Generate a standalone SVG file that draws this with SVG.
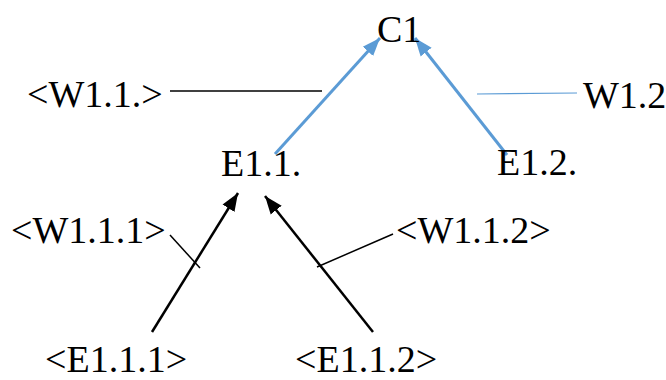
<svg xmlns="http://www.w3.org/2000/svg" width="666" height="380" viewBox="0 0 666 380">
<style>
.t text{font-size:38px;fill:#000}
.blk{stroke:#000;stroke-width:2.5;fill:none}
.blu{stroke:#5B9BD5;stroke-width:3;fill:none}
.thin{stroke:#000;stroke-width:1.5;fill:none}
.thinb{stroke:#5B9BD5;stroke-width:1.2;fill:none}
</style>
<defs>
<marker id="ab" markerUnits="userSpaceOnUse" markerWidth="20" markerHeight="16" refX="18" refY="8" orient="auto" viewBox="0 0 20 16"><path d="M0,1 L18,8 L0,15 Z" fill="#000"/></marker>
<marker id="au" markerUnits="userSpaceOnUse" markerWidth="20" markerHeight="16" refX="18" refY="8" orient="auto" viewBox="0 0 20 16"><path d="M0,1 L18,8 L0,15 Z" fill="#5B9BD5"/></marker>
</defs>
<g id="connectors">
<line class="blu" x1="275" y1="154" x2="380" y2="38" marker-end="url(#au)"/>
<line class="blu" x1="507" y1="155" x2="415" y2="38" marker-end="url(#au)"/>
<line class="blk" x1="152" y1="332" x2="238" y2="193" marker-end="url(#ab)"/>
<line class="blk" x1="373" y1="332" x2="265" y2="196" marker-end="url(#ab)"/>
<line class="thin" x1="170" y1="91" x2="322" y2="91"/>
<line class="thinb" x1="477" y1="94" x2="577" y2="93"/>
<line class="thin" x1="170" y1="235" x2="200" y2="268"/>
<line class="thin" x1="317" y1="267" x2="393" y2="234"/>
</g>
<g class="t" font-family="Liberation Serif, Times New Roman, serif">
<g id="C1"><text x="377" y="42">C1</text></g>
<g id="W1.1"><text x="27" y="107">&lt;W1.1.&gt;</text></g>
<g id="W1.2"><text x="583" y="108">W1.2</text></g>
<g id="E1.1"><text x="221" y="176">E1.1.</text></g>
<g id="E1.2"><text x="497" y="175">E1.2.</text></g>
<g id="W1.1.1"><text x="11" y="243">&lt;W1.1.1&gt;</text></g>
<g id="W1.1.2"><text x="396" y="243">&lt;W1.1.2&gt;</text></g>
<g id="E1.1.1"><text x="45" y="372">&lt;E1.1.1&gt;</text></g>
<g id="E1.1.2"><text x="295" y="372">&lt;E1.1.2&gt;</text></g>
</g>
</svg>
